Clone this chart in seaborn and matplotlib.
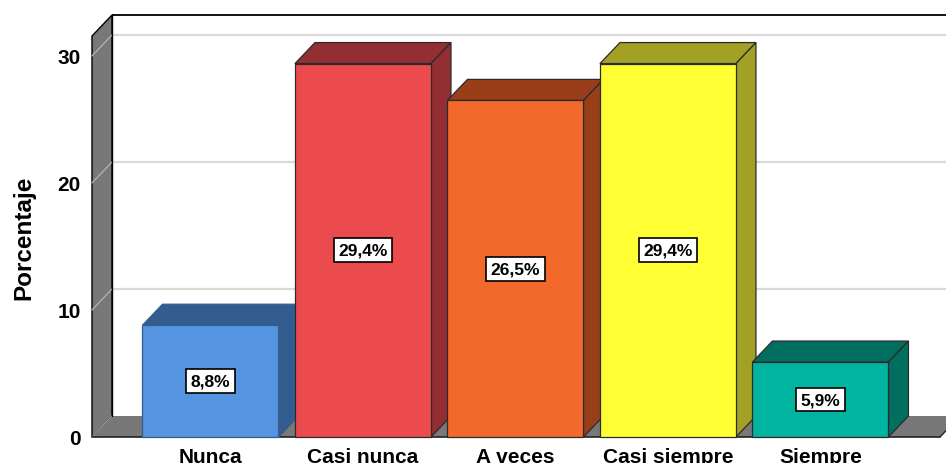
import matplotlib
matplotlib.use("Agg")
import matplotlib.pyplot as plt
from matplotlib.patches import Polygon, Rectangle
import seaborn as sns
import pandas as pd

categories = ["Nunca", "Casi nunca", "A veces", "Casi siempre", "Siempre"]
percentages = [8.8, 29.4, 26.5, 29.4, 5.9]
value_labels = ["8,8%", "29,4%", "26,5%", "29,4%", "5,9%"]
y_ticks = [0, 10, 20, 30]

front_colors = ["#5594E1", "#EC4B4E", "#F2692B", "#FFFF33", "#00B4A0"]
shade_colors = ["#345D8F", "#932F32", "#983F1A", "#A2A125", "#006F5F"]
edge_colors = ["#345D8F", "#2B2B2B", "#2B2B2B", "#2B2B2B", "#2B2B2B"]

sns.set_theme(style="white")
plt.rcParams["font.family"] = ["Liberation Sans", "DejaVu Sans"]

W, H = 946, 464
fig = plt.figure(figsize=(W / 100, H / 100), dpi=100)

# front plane of the 3D box, in pixels
left_px, right_px, bottom_px, top_px = 92, 940, 438, 37
ax = fig.add_axes([left_px / W, (H - bottom_px) / H,
                   (right_px - left_px) / W, (bottom_px - top_px) / H])

df = pd.DataFrame({"Categoria": categories, "Porcentaje": percentages})
sns.barplot(data=df, x="Categoria", y="Porcentaje", hue="Categoria",
            palette=front_colors, saturation=1, width=0.892, legend=False,
            ax=ax)
bars = sorted([p for p in ax.patches if isinstance(p, Rectangle)],
              key=lambda p: p.get_x())

xlim = (-0.777, 4.784)
ylim = (0, 31.57)
ax.set_xlim(*xlim)
ax.set_ylim(*ylim)

# depth offset of the box and the bars, converted from pixels to data units
px_per_x = (right_px - left_px) / (xlim[1] - xlim[0])
px_per_y = (bottom_px - top_px) / (ylim[1] - ylim[0])
ddx = 20 / px_per_x
ddy = 21 / px_per_y
x_far = xlim[1] + 0.5

x0, x1 = xlim
y1 = ylim[1]

# back wall: top border and gridlines
ax.plot([x0 + ddx, x_far], [y1 + ddy, y1 + ddy], color="black", lw=1.3,
        clip_on=False, zorder=1, solid_capstyle="butt")
for t in y_ticks[1:]:
    ax.plot([x0 + ddx, x_far], [t + ddy, t + ddy], color="#D9D9D9", lw=1.6,
            clip_on=False, zorder=1)

# left side wall
ax.add_patch(Polygon([(x0, 0), (x0, y1), (x0 + ddx, y1 + ddy), (x0 + ddx, ddy)],
                     closed=True, facecolor="#787878", edgecolor="black",
                     lw=1.0, clip_on=False, zorder=1.5))
for t in y_ticks:
    ax.plot([x0, x0 + ddx], [t, t + ddy], color="#B4B4B4", lw=0.9,
            clip_on=False, zorder=1.6)

# floor
ax.add_patch(Polygon([(x0, 0), (x1, 0), (x1 + ddx, ddy), (x0 + ddx, ddy)],
                     closed=True, facecolor="#787878", edgecolor="none",
                     clip_on=False, zorder=1.7))
ax.plot([x0, x1], [0, 0], color="#222222", lw=1.2, clip_on=False, zorder=1.8)
ax.plot([x1, x1 + ddx], [0, ddy], color="#222222", lw=1.0, clip_on=False,
        zorder=1.8)
ax.plot([x0 + ddx, x0 + ddx], [ddy, y1 + ddy], color="black", lw=1.0,
        clip_on=False, zorder=1.8)

# bars: front faces from seaborn, top and side faces added behind each one
for i, bar in enumerate(bars):
    bx0 = bar.get_x()
    bx1 = bx0 + bar.get_width()
    h = bar.get_height()
    z = 3 + 2 * i
    bar.set_edgecolor(edge_colors[i])
    bar.set_linewidth(0.9)
    bar.set_zorder(z + 1)
    bar.set_clip_on(False)
    ax.add_patch(Polygon([(bx0, h), (bx1, h), (bx1 + ddx, h + ddy), (bx0 + ddx, h + ddy)],
                         closed=True, facecolor=shade_colors[i],
                         edgecolor=edge_colors[i], lw=0.9, clip_on=False, zorder=z))
    ax.add_patch(Polygon([(bx1, 0), (bx1, h), (bx1 + ddx, h + ddy), (bx1 + ddx, ddy)],
                         closed=True, facecolor=shade_colors[i],
                         edgecolor=edge_colors[i], lw=0.9, clip_on=False, zorder=z))
    ax.text((bx0 + bx1) / 2, h / 2, value_labels[i], ha="center", va="center",
            fontsize=12.5, fontweight="bold", color="black", zorder=20,
            bbox=dict(boxstyle="square,pad=0.25", facecolor="white",
                      edgecolor="black", lw=1.2))

for s in ax.spines.values():
    s.set_visible(False)
ax.set_facecolor("none")
ax.set_yticks(y_ticks)
ax.set_yticklabels([str(t) for t in y_ticks])
ax.tick_params(axis="y", length=0, pad=8, labelsize=15, labelcolor="black")
ax.tick_params(axis="x", length=0, pad=7, labelsize=15, labelcolor="black")
for lab in ax.get_xticklabels() + ax.get_yticklabels():
    lab.set_fontweight("bold")
ax.set_xlabel("")
ax.set_ylabel("Porcentaje", fontsize=17.5, fontweight="bold", color="black")
ax.yaxis.set_label_coords(-0.067, 0.5)
ax.grid(False)

fig.savefig("out.png", dpi=100, facecolor="white")
